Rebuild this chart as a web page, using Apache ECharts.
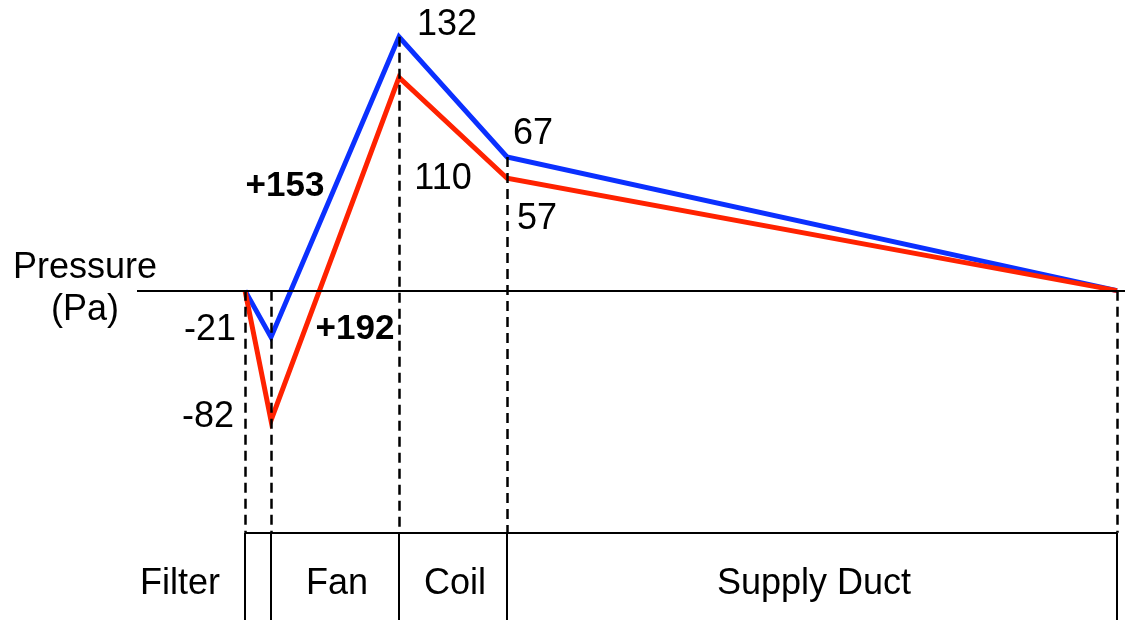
<!DOCTYPE html>
<html>

<head>
	<meta charset="UTF-8">
	<title>Pressure profile</title>
	<style>
		html, body {
			margin: 0;
			padding: 0;
			background: #fff;
		}
		#chart1 {
			width: 1125px;
			height: 620px;
		}
	</style>
	<script src="https://cdn.jsdelivr.net/npm/echarts@6/dist/echarts.min.js"></script>
</head>

<body>
	<div id="chart1"></div>
	<script>
		// distance along the unit (same scale as the picture), one per station
		var stations = [0, 26, 154, 262, 872];
		var sections = ['Filter', 'Fan', 'Coil', 'Supply Duct'];

		// pressure level as drawn (Pa) and the printed values
		var blueLevel = [0, -24, 131, 69, 0];
		var blueText = ['', '-21', '132', '67', ''];
		var redLevel = [0, -67, 110, 58, 0];
		var redText = ['', '-82', '110', '57', ''];

		// rise across the fan
		var riseText = ['+153', '+192'];

		var FLOOR = -125, BOTTOM = -170;
		var FONT = 'Liberation Sans, Arial, sans-serif';

		// label offsets (px) from each station point
		var blueOff = [[0, 0], [-61, -7], [48, -12], [26, -23], [0, 0]];
		var redOff = [[0, 0], [-63, -3], [44, 102], [30, 41], [0, 0]];

		function pts(level, text, off) {
			return stations.map(function (x, i) {
				return {
					value: [x, level[i]],
					label: {
						show: text[i] !== '',
						formatter: text[i],
						offset: off[i]
					}
				};
			});
		}

		var frame = [];
		frame.push([{ coord: [-108, 0] }, { coord: [880, 0] }]);
		frame.push([{ coord: [stations[0], FLOOR] }, { coord: [stations[stations.length - 1], FLOOR] }]);
		stations.forEach(function (x) {
			frame.push([{ coord: [x, FLOOR] }, { coord: [x, BOTTOM] }]);
		});

		var dashes = stations.map(function (x, i) {
			return [{ coord: [x, Math.max(blueLevel[i], 0)] }, { coord: [x, FLOOR] }];
		});

		var secLabels = sections.map(function (s, i) {
			return {
				value: [(stations[i] + stations[i + 1]) / 2, (FLOOR + BOTTOM) / 2],
				label: { formatter: s, offset: i === 0 ? [-78, 8] : [2, 8] }
			};
		});

		var riseLabels = [
			{
				value: [(stations[1] + stations[2]) / 2, (blueLevel[1] + blueLevel[2]) / 2],
				label: { formatter: riseText[0], offset: [-50, -1] }
			},
			{
				value: [(stations[1] + stations[2]) / 2, (redLevel[1] + redLevel[2]) / 2],
				label: { formatter: riseText[1], offset: [20, 80] }
			}
		];

		var txt = {
			show: true,
			position: 'inside',
			color: '#000',
			fontSize: 36,
			fontFamily: FONT,
			textBorderWidth: 0
		};

		// invisible carrier for free text, drawn like the value labels
		function textSeries(name, data, label) {
			return {
				name: name,
				type: 'line',
				data: data,
				symbol: 'circle',
				symbolSize: 0,
				showSymbol: true,
				lineStyle: { width: 0, opacity: 0 },
				itemStyle: { color: '#000' },
				label: label,
				silent: true,
				z: 5
			};
		}

		var myChart = echarts.init(document.getElementById('chart1'));
		myChart.setOption({
			animation: false,
			textStyle: { fontFamily: FONT },
			grid: { left: 0, right: 0, top: 0, bottom: 0 },
			xAxis: { type: 'value', min: -245, max: 880, show: false },
			yAxis: { type: 'value', min: BOTTOM, max: 150, show: false },
			series: [
				{
					name: 'frame',
					type: 'line',
					data: [],
					silent: true,
					markLine: {
						silent: true,
						symbol: ['none', 'none'],
						label: { show: false },
						lineStyle: { color: '#000', width: 2, type: 'solid' },
						emphasis: { disabled: true },
						data: frame
					}
				},
				{
					name: 'dash',
					type: 'line',
					data: [],
					silent: true,
					markLine: {
						silent: true,
						symbol: ['none', 'none'],
						label: { show: false },
						lineStyle: { color: '#000', width: 2.5, type: [10, 6] },
						emphasis: { disabled: true },
						data: dashes
					}
				},
				{
					name: 'blue',
					type: 'line',
					data: pts(blueLevel, blueText, blueOff),
					symbol: 'circle',
					symbolSize: 0,
					showSymbol: true,
					lineStyle: { color: '#0b30ff', width: 5, join: 'miter' },
					itemStyle: { color: '#0b30ff' },
					label: txt,
					z: 3
				},
				{
					name: 'red',
					type: 'line',
					data: pts(redLevel, redText, redOff),
					symbol: 'circle',
					symbolSize: 0,
					showSymbol: true,
					lineStyle: { color: '#ff2200', width: 5, join: 'miter' },
					itemStyle: { color: '#ff2200' },
					label: txt,
					z: 4
				},
				textSeries('rise', riseLabels, Object.assign({}, txt, { fontWeight: 'bold', fontSize: 35 })),
				textSeries('sections', secLabels, txt),
				textSeries('axisName',
					[{ value: [-160, 0], label: { formatter: 'Pressure\n(Pa)', offset: [0, -2] } }],
					Object.assign({}, txt, { lineHeight: 42, align: 'center' }))
			]
		});
	</script>
</body>

</html>
